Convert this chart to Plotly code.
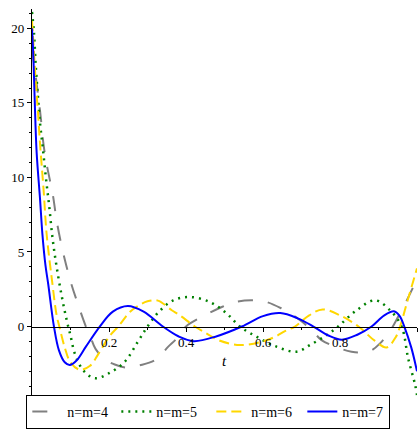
import plotly.graph_objects as go

# Residual curves for increasing truncation orders n = m
t_n4 = [0, 0.012, 0.022, 0.03, 0.038, 0.047, 0.055, 0.064, 0.077, 0.089, 0.102, 0.119, 0.14,
        0.152, 0.165, 0.19, 0.215, 0.245, 0.28, 0.32, 0.354, 0.376, 0.40, 0.449, 0.493, 0.527,
        0.571, 0.61, 0.649, 0.675, 0.70, 0.731, 0.752, 0.8, 0.83, 0.855, 0.88, 0.904, 0.934,
        0.951, 0.969, 0.986, 1.0]
y_n4 = [18.7, 16.3, 14.2, 12.2, 10.9, 9.75, 8.7, 7.1, 5.4, 4.1, 2.87, 1.53, 0,
        -0.7, -1.5, -2.2, -2.55, -2.75, -2.6, -2.25, -1.35, -0.8, 0, 0.75, 1.31, 1.64,
        1.76, 1.64, 1.2, 0.8, 0.35, -0.36, -0.91, -1.47, -1.69, -1.75, -1.62, -1.13, -0.13,
        0.65, 1.53, 2.42, 3.3]

t_n5 = [0, 0.005, 0.0095, 0.015, 0.021, 0.028, 0.036, 0.045, 0.053, 0.064, 0.081, 0.094,
        0.1, 0.111, 0.132, 0.163, 0.2, 0.241, 0.275, 0.3, 0.33, 0.367, 0.41, 0.462, 0.506,
        0.54, 0.584, 0.636, 0.687, 0.722, 0.765, 0.795, 0.843, 0.891, 0.93, 0.96, 0.977,
        0.995, 1.0]
y_n5 = [21.1, 19.75, 17.6, 15.6, 13.6, 12.0, 10.0, 8.0, 6.0, 4.0, 1.53, 0,
        -0.6, -1.8, -2.9, -3.47, -3.13, -2.36, -1.02, 0, 1.0, 1.76, 1.98, 1.64, 0.87,
        0, -0.69, -1.36, -1.69, -1.24, -0.58, 0, 1.09, 1.76, 1.09, 0, -2.13,
        -3.9, -4.6]

t_n6 = [0, 0.0035, 0.01, 0.016, 0.021, 0.03, 0.038, 0.051, 0.064, 0.071, 0.085, 0.1, 0.124,
        0.15, 0.171, 0.2, 0.224, 0.254, 0.275, 0.3, 0.327, 0.363, 0.384, 0.423, 0.454, 0.484,
        0.54, 0.6, 0.631, 0.657, 0.683, 0.72, 0.755, 0.8, 0.848, 0.89, 0.921, 0.945, 0.956,
        0.975, 1.0]
y_n6 = [20.5, 19.1, 16.3, 14.2, 12.2, 9.2, 6.2, 3.3, 0.75, 0, -1.4, -2.4, -2.9,
        -2.65, -1.9, -0.69, 0, 0.98, 1.38, 1.69, 1.74, 1.09, 0.75, 0, -0.47, -0.91,
        -1.24, -1.0, -0.69, -0.31, 0, 0.75, 1.15, 0.75, 0, -0.95, -1.4, -0.7, 0,
        1.7, 3.9]

t_n7 = [0, 0.0035, 0.007, 0.012, 0.021, 0.027, 0.035, 0.042, 0.057, 0.07, 0.085, 0.098,
        0.115, 0.14, 0.176, 0.21, 0.249, 0.29, 0.34, 0.38, 0.42, 0.48, 0.545, 0.6, 0.645,
        0.69, 0.731, 0.77, 0.805, 0.845, 0.882, 0.915, 0.94, 0.955, 0.967, 0.985, 1.0]
y_n7 = [20.0, 18.2, 15.2, 11.7, 8.5, 6.2, 4.1, 2.87, 0, -1.6, -2.4, -2.58,
        -2.3, -1.35, 0, 1.0, 1.38, 1.0, 0, -0.65, -0.98, -0.65, 0, 0.7, 0.9,
        0.55, 0, -0.6, -0.88, -0.55, 0, 0.75, 1.02, 0.7, 0, -1.4, -3.0]

x_ticks = [0.2, 0.4, 0.6, 0.8, 1.0]
x_tick_text = ["0.2", "0.4", "0.6", "0.8", "1"]
x_minor = [0.1, 0.3, 0.5, 0.7, 0.9]
y_ticks = [0, 5, 10, 15, 20]

X_RANGE = [0, 1]
Y_RANGE = [-4.67, 21.3]
SERIF = "Times New Roman"

W, H = 420, 429
M_TOP, M_LEFT, M_RIGHT = 9, 32, 3
LEGEND_BAND = 31  # pixels kept under the plotting area for the legend

series = [
    ("n=m=4", t_n4, y_n4, dict(color="#808080", width=2, dash="15px,15px"), 44),
    ("n=m=5", t_n5, y_n5, dict(color="#008000", width=2.5, dash="2px,5px"), 50),
    ("n=m=6", t_n6, y_n6, dict(color="#FFD700", width=2, dash="10px,5px"), 46),
    ("n=m=7", t_n7, y_n7, dict(color="#0000FF", width=2, dash="solid"), 42),
]

fig = go.Figure()
for name, tx, ty, style, entry_w in series:
    fig.add_trace(go.Scatter(
        x=tx, y=ty, mode="lines", name=name, legendwidth=entry_w,
        line=dict(shape="spline", smoothing=1, **style),
    ))

# the y axis occupies the upper part of the paper; the legend sits below it
y_dom0 = LEGEND_BAND / (H - M_TOP)
# horizontal axis crosses the vertical one at y = 0
zero_frac = (0 - Y_RANGE[0]) / (Y_RANGE[1] - Y_RANGE[0])
zero_pos = y_dom0 + zero_frac * (1 - y_dom0)

fig.update_layout(
    template="none",
    width=W, height=H,
    margin=dict(l=M_LEFT, r=M_RIGHT, t=M_TOP, b=0),
    paper_bgcolor="white", plot_bgcolor="white",
    font=dict(family=SERIF, size=13, color="black"),
    showlegend=True,
    legend=dict(
        orientation="h", x=0.458, xanchor="center",
        y=y_dom0 + 0.003, yanchor="top",
        bordercolor="black", borderwidth=1, bgcolor="white",
        font=dict(family=SERIF, size=14, color="black"),
    ),
    xaxis=dict(
        range=X_RANGE, anchor="free", position=zero_pos,
        showline=True, linecolor="black", linewidth=1.3,
        ticks="outside", ticklen=4, tickcolor="black", tickwidth=1,
        tickmode="array", tickvals=x_ticks, ticktext=x_tick_text,
        minor=dict(tickmode="array", tickvals=x_minor, ticks="outside",
                   ticklen=2, tickcolor="black", showgrid=False),
        showgrid=False, zeroline=False, automargin=False,
        tickfont=dict(family=SERIF, size=13, color="black"),
    ),
    yaxis=dict(
        range=Y_RANGE, anchor="x", domain=[y_dom0, 1],
        showline=True, linecolor="black", linewidth=1.3,
        ticks="outside", ticklen=4, tickcolor="black", tickwidth=1,
        tickmode="array", tickvals=y_ticks,
        minor=dict(dtick=1, ticks="outside", ticklen=2, tickcolor="black",
                   showgrid=False),
        showgrid=False, zeroline=False, automargin=False,
        tickfont=dict(family=SERIF, size=13, color="black"),
    ),
    annotations=[dict(
        x=0.5, y=-2.3, xref="x", yref="y", text="<i>t</i>", showarrow=False,
        font=dict(family=SERIF, size=15, color="black"),
        xanchor="center", yanchor="middle",
    )],
)

fig.write_html("out.html")
